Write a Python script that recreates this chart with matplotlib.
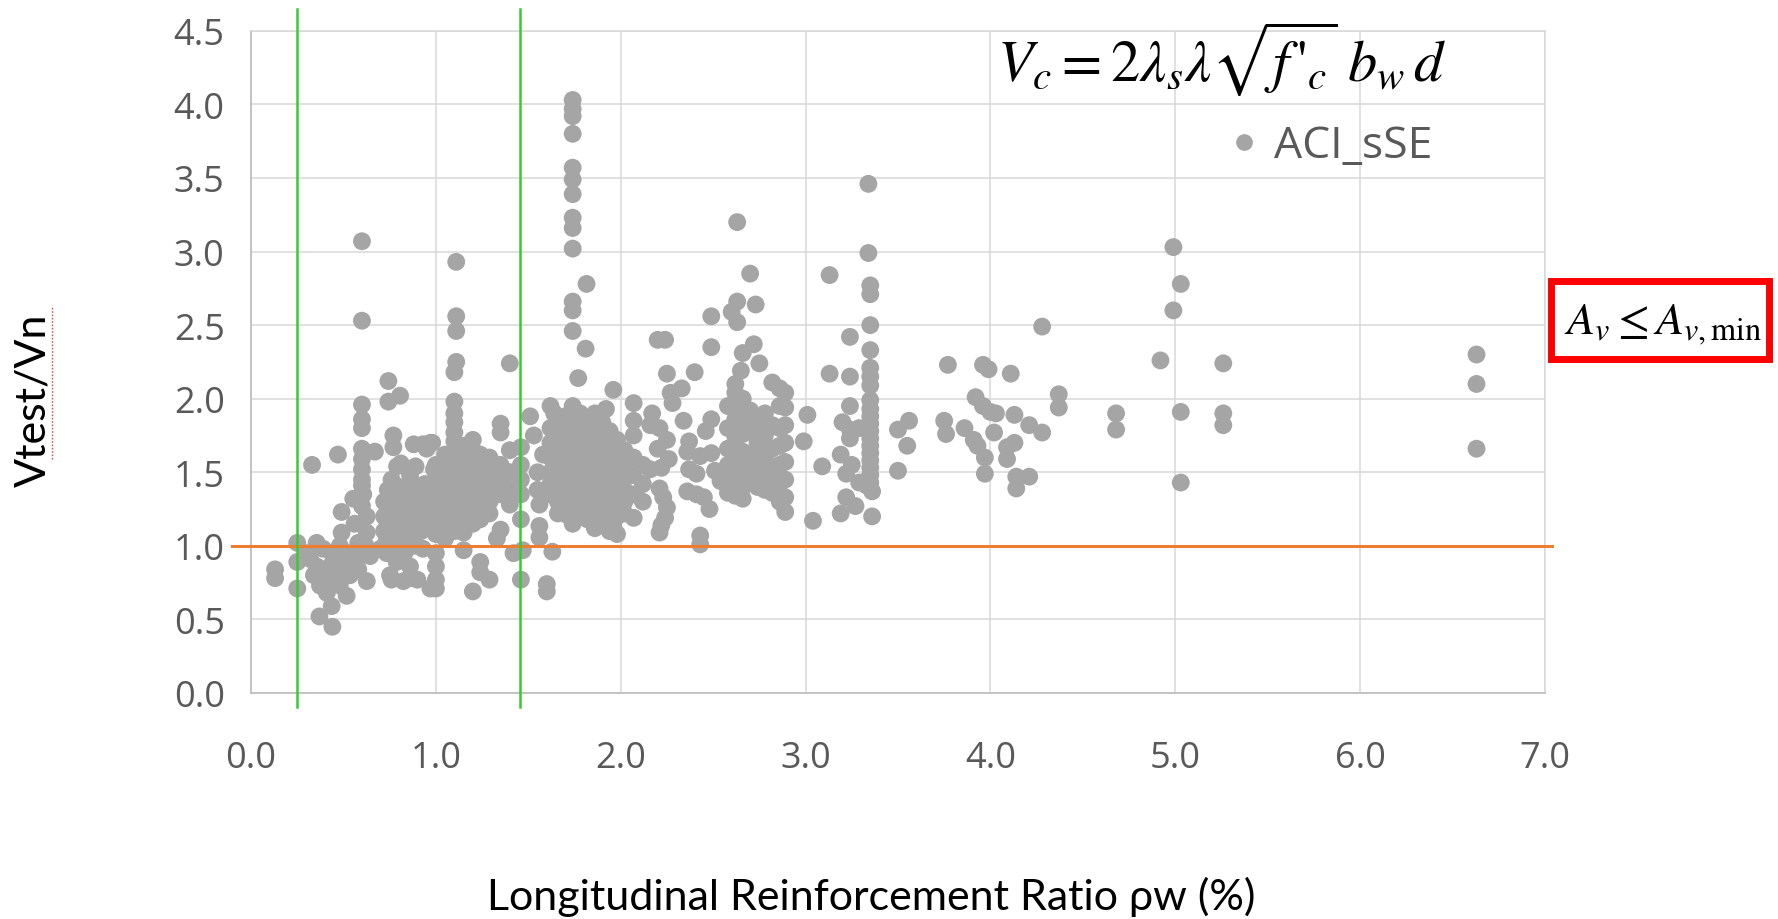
import numpy as np
import matplotlib
matplotlib.use("Agg")
import matplotlib.pyplot as plt
from matplotlib.lines import Line2D
from matplotlib.patches import Rectangle

# (rho_w %, Vtest/Vn), grouped by rho_w range
pts_low = [(0.13, 0.84), (0.13, 0.78), (0.25, 1.02), (0.25, 0.89), (0.25, 0.71), (0.30, 0.95),
           (0.32, 0.91), (0.33, 1.55), (0.34, 0.80), (0.355, 1.02), (0.355, 0.86), (0.37, 0.52),
           (0.373, 0.73), (0.39, 0.98), (0.39, 0.82), (0.41, 0.68), (0.427, 0.86), (0.427, 0.77),
           (0.436, 0.59), (0.44, 0.45), (0.445, 0.93), (0.463, 0.77), (0.47, 1.62), (0.48, 1.00),
           (0.48, 0.73), (0.49, 1.23), (0.49, 1.09), (0.50, 0.86), (0.517, 0.66), (0.535, 0.95),
           (0.535, 0.80), (0.553, 1.32), (0.571, 0.91), (0.58, 1.02), (0.60, 3.07), (0.60, 2.53),
           (0.60, 1.96), (0.60, 1.86), (0.60, 1.80), (0.60, 1.66), (0.60, 1.59), (0.60, 1.52),
           (0.60, 1.45), (0.607, 1.35), (0.60, 1.41), (0.626, 1.20), (0.626, 1.09), (0.644, 0.93),
           (0.626, 0.76), (0.67, 1.64), (0.60, 1.27), (0.56, 1.15), (0.62, 1.00), (0.58, 0.84)]

pts_07 = [(0.743, 2.12), (0.743, 1.98), (0.806, 2.02), (0.77, 1.75), (0.77, 1.67), (0.79, 1.54),
          (0.88, 1.69), (0.93, 1.69), (0.97, 1.70), (0.81, 1.56), (0.89, 1.54), (0.99, 1.52),
          (0.887, 1.41), (0.98, 1.70), (0.95, 1.66),
          (0.72, 1.10), (0.72, 1.20), (0.72, 1.30), (0.74, 1.15), (0.74, 1.25), (0.74, 1.38),
          (0.76, 1.05), (0.76, 1.18), (0.76, 1.28), (0.76, 1.45), (0.78, 1.12), (0.78, 1.22),
          (0.78, 1.33), (0.80, 1.02), (0.80, 1.16), (0.80, 1.26), (0.80, 1.40), (0.82, 1.10),
          (0.82, 1.20), (0.82, 1.30), (0.84, 1.05), (0.84, 1.15), (0.84, 1.24), (0.84, 1.36),
          (0.86, 1.12), (0.86, 1.22), (0.86, 1.31), (0.86, 1.48), (0.88, 1.08), (0.88, 1.18),
          (0.88, 1.27), (0.90, 1.14), (0.90, 1.23), (0.90, 1.35), (0.92, 1.10), (0.92, 1.20),
          (0.92, 1.30), (0.94, 1.16), (0.94, 1.26), (0.94, 1.42), (0.96, 1.12), (0.96, 1.22),
          (0.96, 1.32), (0.98, 1.18), (0.98, 1.28),
          (0.70, 0.98), (0.73, 1.02), (0.78, 0.97), (0.83, 0.95), (0.88, 1.00), (0.93, 0.98),
          (0.734, 0.95), (0.752, 0.80), (0.824, 0.76), (0.788, 0.89), (0.86, 0.86), (0.97, 0.71),
          (0.76, 0.77), (0.86, 0.78), (0.90, 0.77)]

pts_10 = [(1.00, 1.55), (1.00, 1.45), (1.00, 1.36), (1.00, 1.27), (1.00, 1.18), (1.00, 1.08),
          (1.00, 0.95), (1.00, 0.86), (1.00, 0.77), (1.00, 0.71),
          (1.05, 1.62), (1.05, 1.52), (1.05, 1.42), (1.05, 1.33), (1.05, 1.24), (1.05, 1.15), (1.05, 1.05),
          (1.11, 2.93), (1.11, 2.56), (1.11, 2.46), (1.11, 2.25), (1.10, 2.18), (1.10, 1.98),
          (1.10, 1.90), (1.10, 1.84), (1.10, 1.77), (1.10, 1.71), (1.10, 1.65), (1.10, 1.60),
          (1.10, 1.55), (1.10, 1.50), (1.10, 1.45), (1.10, 1.40), (1.10, 1.35), (1.10, 1.30),
          (1.10, 1.25), (1.10, 1.20), (1.10, 1.15), (1.10, 1.10),
          (1.15, 1.68), (1.15, 1.58), (1.15, 1.48), (1.15, 1.38), (1.15, 1.28), (1.15, 1.18),
          (1.15, 1.09), (1.15, 0.97),
          (1.20, 1.72), (1.20, 1.65), (1.20, 1.59), (1.20, 1.50), (1.20, 1.42), (1.20, 1.33),
          (1.20, 1.24), (1.20, 1.15), (1.20, 0.69),
          (1.24, 1.62), (1.24, 1.52), (1.24, 1.43), (1.24, 1.34), (1.24, 1.26), (1.24, 1.18),
          (1.24, 0.89), (1.24, 0.82),
          (1.29, 1.60), (1.29, 1.50), (1.29, 1.40), (1.29, 1.30), (1.29, 1.22), (1.29, 0.77),
          (1.35, 1.83), (1.35, 1.77), (1.35, 1.55), (1.35, 1.45), (1.35, 1.35), (1.35, 1.11), (1.33, 1.05),
          (1.40, 2.24), (1.40, 1.65), (1.40, 1.50), (1.40, 1.38), (1.40, 1.28), (1.42, 0.95),
          (1.46, 1.67), (1.46, 1.55), (1.46, 1.45), (1.46, 1.35), (1.46, 1.18), (1.47, 0.97), (1.46, 0.77)]

pts_15 = [(1.51, 1.88), (1.53, 1.75), (1.58, 1.62), (1.62, 1.95), (1.64, 1.90), (1.55, 1.50),
          (1.55, 1.38), (1.56, 1.28), (1.56, 1.135), (1.56, 1.057), (1.63, 0.96), (1.60, 0.74),
          (1.60, 0.69), (1.71, 1.21), (1.92, 1.93), (1.96, 2.06), (2.07, 1.97),
          (1.74, 4.03), (1.74, 3.97), (1.74, 3.92), (1.74, 3.80), (1.74, 3.57), (1.74, 3.49),
          (1.74, 3.39), (1.74, 3.23), (1.74, 3.16), (1.74, 3.02), (1.815, 2.78), (1.74, 2.66),
          (1.74, 2.60), (1.74, 2.46), (1.81, 2.34), (1.77, 2.14),
          (1.62, 1.80), (1.62, 1.70), (1.62, 1.60), (1.62, 1.50), (1.62, 1.42), (1.62, 1.35),
          (1.66, 1.85), (1.66, 1.75), (1.66, 1.65), (1.66, 1.55), (1.66, 1.47), (1.66, 1.40),
          (1.66, 1.30), (1.66, 1.22),
          (1.70, 1.88), (1.70, 1.78), (1.70, 1.68), (1.70, 1.58), (1.70, 1.50), (1.70, 1.44),
          (1.70, 1.36), (1.70, 1.28),
          (1.74, 1.95), (1.74, 1.82), (1.74, 1.72), (1.74, 1.62), (1.74, 1.54), (1.74, 1.46),
          (1.74, 1.38), (1.74, 1.30), (1.74, 1.22), (1.74, 1.15),
          (1.78, 1.90), (1.78, 1.80), (1.78, 1.70), (1.78, 1.60), (1.78, 1.52), (1.78, 1.45),
          (1.78, 1.37), (1.78, 1.30), (1.78, 1.20),
          (1.82, 1.86), (1.82, 1.76), (1.82, 1.66), (1.82, 1.57), (1.82, 1.50), (1.82, 1.42),
          (1.82, 1.34), (1.82, 1.26), (1.82, 1.18),
          (1.86, 1.90), (1.86, 1.80), (1.86, 1.70), (1.86, 1.60), (1.86, 1.52), (1.86, 1.44),
          (1.86, 1.36), (1.86, 1.28), (1.86, 1.20), (1.86, 1.12),
          (1.90, 1.84), (1.90, 1.74), (1.90, 1.64), (1.90, 1.55), (1.90, 1.47), (1.90, 1.39),
          (1.90, 1.31), (1.90, 1.23), (1.90, 1.15),
          (1.94, 1.78), (1.94, 1.68), (1.94, 1.58), (1.94, 1.50), (1.94, 1.42), (1.94, 1.34),
          (1.94, 1.26), (1.94, 1.18), (1.94, 1.10),
          (1.98, 1.72), (1.98, 1.62), (1.98, 1.52), (1.98, 1.44), (1.98, 1.36), (1.98, 1.28),
          (1.98, 1.20), (1.98, 1.08), (1.96, 1.14),
          (2.02, 1.65), (2.02, 1.55), (2.02, 1.46), (2.02, 1.38), (2.02, 1.30), (2.02, 1.22),
          (2.07, 1.85), (2.07, 1.75), (2.07, 1.60), (2.07, 1.48), (2.07, 1.35), (2.07, 1.19),
          (2.12, 1.55), (2.12, 1.42), (2.12, 1.30)]

pts_22 = [(2.20, 2.40), (2.24, 2.40), (2.25, 2.17), (2.40, 2.18), (2.27, 2.04), (2.33, 2.07),
          (2.28, 1.97), (2.17, 1.90), (2.16, 1.82), (2.34, 1.85), (2.49, 1.86), (2.46, 1.78),
          (2.37, 1.71), (2.36, 1.64), (2.43, 1.61), (2.49, 1.63), (2.21, 1.80), (2.25, 1.72),
          (2.20, 1.66), (2.26, 1.59), (2.22, 1.53), (2.16, 1.52), (2.37, 1.52), (2.41, 1.49),
          (2.51, 1.51), (2.54, 1.44), (2.36, 1.37), (2.41, 1.35), (2.45, 1.33), (2.48, 1.25),
          (2.21, 1.39), (2.23, 1.33), (2.25, 1.26), (2.24, 1.19), (2.22, 1.14), (2.21, 1.09),
          (2.43, 1.07), (2.43, 1.01), (2.49, 2.56), (2.49, 2.35)]

pts_26 = [(2.70, 2.85), (2.63, 2.66), (2.60, 2.59), (2.63, 2.52), (2.73, 2.64), (2.63, 3.20),
          (2.72, 2.37), (2.66, 2.31), (2.75, 2.24), (2.65, 2.19),
          (2.62, 2.10), (2.62, 2.04), (2.62, 1.98), (2.62, 1.92), (2.62, 1.86), (2.62, 1.80),
          (2.62, 1.74), (2.62, 1.68), (2.62, 1.62), (2.62, 1.56), (2.62, 1.50), (2.62, 1.44),
          (2.62, 1.38), (2.62, 1.34),
          (2.58, 1.95), (2.58, 1.80), (2.58, 1.66), (2.58, 1.55), (2.58, 1.45), (2.58, 1.36),
          (2.66, 2.00), (2.66, 1.88), (2.66, 1.76), (2.66, 1.64), (2.66, 1.52), (2.66, 1.40), (2.66, 1.32),
          (2.70, 1.92), (2.70, 1.78), (2.70, 1.62), (2.70, 1.48),
          (2.74, 1.85), (2.74, 1.70), (2.74, 1.55), (2.74, 1.40),
          (2.78, 1.90), (2.78, 1.75), (2.78, 1.60), (2.78, 1.45), (2.78, 1.38),
          (2.82, 2.11), (2.82, 1.82), (2.82, 1.66), (2.82, 1.50), (2.82, 1.36),
          (2.86, 2.07), (2.86, 1.95), (2.86, 1.80), (2.86, 1.68), (2.86, 1.55), (2.86, 1.42), (2.86, 1.30),
          (2.89, 2.04), (2.89, 1.94), (2.89, 1.82), (2.89, 1.70), (2.89, 1.57), (2.89, 1.45),
          (2.89, 1.33), (2.89, 1.23)]

pts_30 = [(3.01, 1.89), (2.99, 1.71), (3.09, 1.54), (3.04, 1.17), (3.13, 2.84), (3.24, 2.42),
          (3.13, 2.17), (3.24, 2.15),
          (3.34, 3.46), (3.34, 2.99), (3.35, 2.77), (3.35, 2.71), (3.35, 2.50), (3.35, 2.33),
          (3.35, 2.21), (3.35, 2.15), (3.35, 2.09), (3.35, 1.99), (3.35, 1.93), (3.35, 1.88),
          (3.35, 1.83), (3.35, 1.78), (3.35, 1.73), (3.35, 1.68), (3.35, 1.63), (3.35, 1.58),
          (3.35, 1.53), (3.35, 1.48), (3.35, 1.43), (3.36, 1.37), (3.36, 1.20),
          (3.24, 1.95), (3.20, 1.84), (3.24, 1.79), (3.24, 1.73), (3.19, 1.62), (3.22, 1.49),
          (3.25, 1.55), (3.29, 1.43), (3.33, 1.41), (3.22, 1.33), (3.27, 1.27), (3.19, 1.22),
          (3.29, 1.80),
          (3.50, 1.79), (3.56, 1.85), (3.55, 1.68), (3.50, 1.51)]

pts_38 = [(3.77, 2.23), (3.75, 1.85), (3.76, 1.76), (3.96, 2.23), (3.99, 2.20), (4.11, 2.17),
          (3.92, 2.01), (3.96, 1.95), (4.00, 1.91), (4.03, 1.90), (3.86, 1.80), (3.91, 1.72),
          (3.93, 1.68), (3.97, 1.60), (3.97, 1.49), (4.02, 1.77), (4.13, 1.89), (4.09, 1.67),
          (4.13, 1.70), (4.09, 1.59), (4.14, 1.47), (4.14, 1.39), (4.28, 2.49), (4.21, 1.82),
          (4.28, 1.77), (4.21, 1.47), (4.37, 2.03), (4.37, 1.94)]

pts_high = [(4.68, 1.90), (4.68, 1.79), (4.92, 2.26), (4.99, 3.03), (5.03, 2.78), (4.99, 2.60),
            (5.03, 1.91), (5.03, 1.43), (5.26, 2.24), (5.26, 1.90), (5.26, 1.82),
            (6.63, 2.30), (6.63, 2.10), (6.63, 1.66)]

x_ticks = [0, 1, 2, 3, 4, 5, 6, 7]
y_ticks = [0, 0.5, 1.0, 1.5, 2.0, 2.5, 3.0, 3.5, 4.0, 4.5]
rho_limits = [0.25, 1.455]   # green lines
unity = 1.0                  # orange line

groups = [pts_low, pts_07, pts_10, pts_15, pts_22, pts_26, pts_30, pts_38, pts_high]
rho = [p[0] for g in groups for p in g]
ratio = [p[1] for g in groups for p in g]

plt.rcParams['mathtext.fontset'] = 'stix'

fig = plt.figure(figsize=(17.78, 9.2), dpi=100)
ax = fig.add_axes([0.1412, 0.2457, 0.7277, 0.7197])

ax.scatter(rho, ratio, s=165, color='#A5A5A5', edgecolors='none', zorder=3)

ax.set_xlim(0, 7)
ax.set_ylim(0, 4.5)
ax.set_xticks(x_ticks)
ax.set_xticklabels([f"{v:.1f}" for v in x_ticks])
ax.set_yticks(y_ticks)
ax.set_yticklabels([f"{v:.1f}" for v in y_ticks])
ax.tick_params(length=0, labelsize=26, labelcolor='#595959')
ax.tick_params(axis='x', pad=34)
ax.tick_params(axis='y', pad=19)
for lab in ax.get_xticklabels() + ax.get_yticklabels():
    lab.set_family('Open Sans')

ax.grid(True, color='#D9D9D9', lw=1.1, zorder=0)
ax.set_axisbelow(True)
for side in ['top', 'right']:
    ax.spines[side].set_color('#D9D9D9')
    ax.spines[side].set_linewidth(1.1)
for side in ['left', 'bottom']:
    ax.spines[side].set_color('#BFBFBF')
    ax.spines[side].set_linewidth(1.3)

# reference lines
ax.plot([-0.103, 7.04], [unity, unity], color='#ED7D31', lw=2.2, clip_on=False, zorder=4)
for r in rho_limits:
    ax.plot([r, r], [-0.095, 4.65], color='#33CC33', lw=1.8, clip_on=False, zorder=4)

# legend
h = Line2D([], [], marker='o', ls='none', color='#A5A5A5', markersize=11, label='ACI_sSE')
ax.legend(handles=[h], loc='center left', bbox_to_anchor=(0.6901, 0.8402),
          bbox_transform=fig.transFigure, frameon=False, handlelength=0.75,
          handletextpad=0.3, borderpad=0, borderaxespad=0,
          prop={'family': 'Open Sans', 'size': 32}, labelcolor='#595959')

# axis titles
fig.text(0.490, 0.025, 'Longitudinal Reinforcement Ratio ρw (%)', ha='center', va='center',
         fontsize=31, family='Lato', color='black')
fig.text(0.019, 0.565, 'Vtest/Vn', rotation=90, ha='center', va='center',
         fontsize=31, family='Lato', color='black')
# spell-check squiggle under the y title
fig.add_artist(Line2D([0.0290, 0.0290], [0.500, 0.665], transform=fig.transFigure,
                      color='#E05050', lw=1.0, ls=(0, (1.2, 1.2))))

# formula and condition box
fig.text(0.687, 0.936, r"$V_c = 2\lambda_s\lambda\sqrt{f\,'_c}\;b_w\,d$", ha='center', va='center',
         fontsize=42, color='black')
fig.patches.append(Rectangle((0.8726, 0.6082), 0.1226, 0.0848, transform=fig.transFigure,
                             fill=False, edgecolor='#FF0000', lw=5))
fig.text(0.9353, 0.647, r"$A_v \leq A_{v,\mathrm{min}}$", ha='center', va='center',
         fontsize=33, color='black')

fig.savefig('out.png', dpi=100)
